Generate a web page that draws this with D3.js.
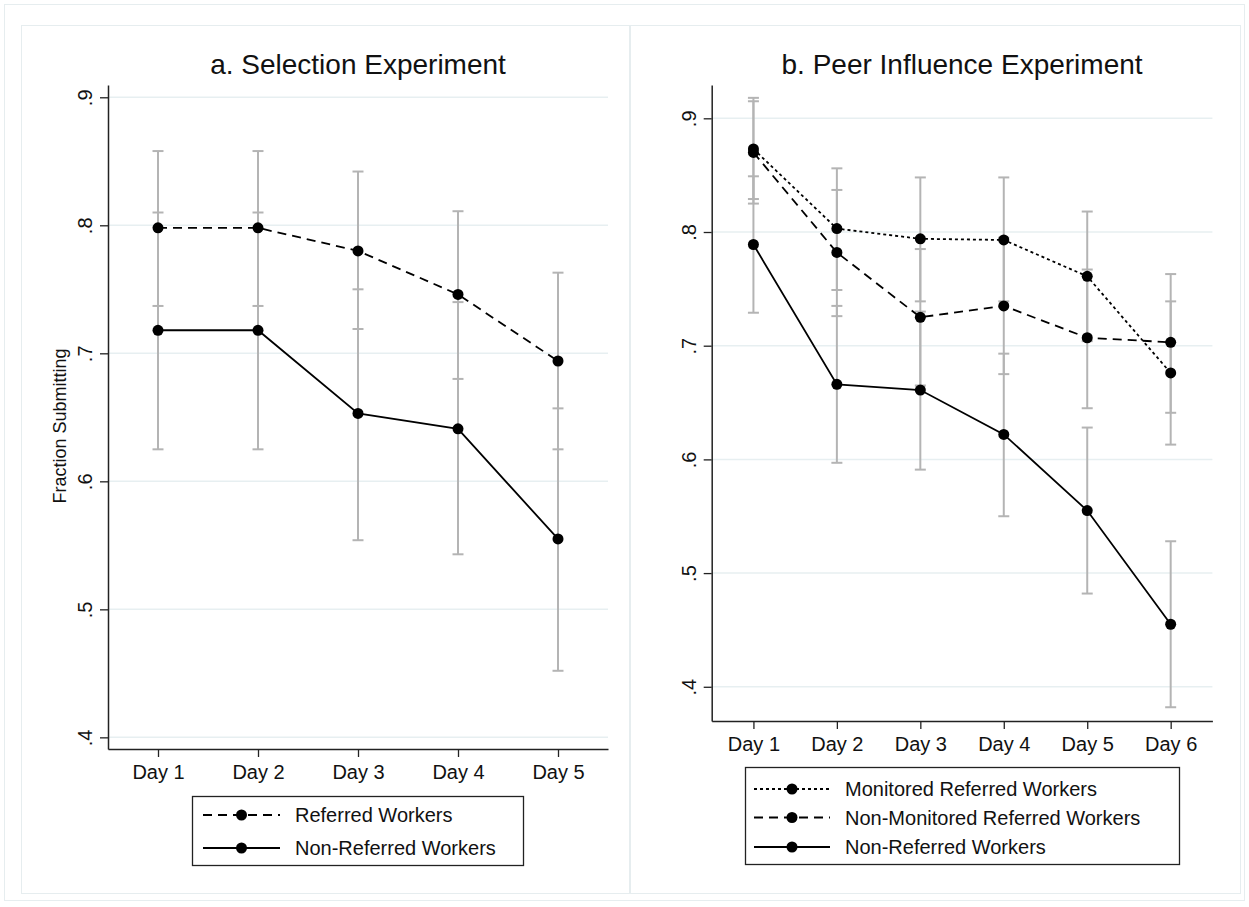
<!DOCTYPE html>
<html>
<head>
<meta charset="utf-8">
<script src="https://cdn.jsdelivr.net/npm/d3@7"></script>
<style>
  body { margin: 0; background: #fff; }
  svg { display: block; font-family: "Liberation Sans", Arial, sans-serif; }
</style>
</head>
<body>
<svg id="chart" width="1249" height="907"></svg>
<script>
// ---------- data ----------
const days5 = ["Day 1", "Day 2", "Day 3", "Day 4", "Day 5"];
const days6 = ["Day 1", "Day 2", "Day 3", "Day 4", "Day 5", "Day 6"];

// a. Selection experiment
const selRef    = [0.798, 0.798, 0.780, 0.746, 0.694];
const selRefLo  = [0.737, 0.737, 0.719, 0.680, 0.625];
const selRefHi  = [0.858, 0.858, 0.842, 0.811, 0.763];
const selNon    = [0.718, 0.718, 0.653, 0.641, 0.555];
const selNonLo  = [0.625, 0.625, 0.554, 0.543, 0.452];
const selNonHi  = [0.810, 0.810, 0.750, 0.740, 0.657];

// b. Peer influence experiment
const monRef    = [0.873, 0.803, 0.794, 0.793, 0.761, 0.676];
const monRefLo  = [0.829, 0.749, 0.739, 0.739, 0.704, 0.613];
const monRefHi  = [0.918, 0.856, 0.848, 0.848, 0.818, 0.739];
const nmRef     = [0.870, 0.782, 0.725, 0.735, 0.707, 0.703];
const nmRefLo   = [0.825, 0.726, 0.665, 0.675, 0.645, 0.641];
const nmRefHi   = [0.915, 0.837, 0.785, 0.795, 0.767, 0.763];
const peerNon   = [0.789, 0.666, 0.661, 0.622, 0.555, 0.455];
const peerNonLo = [0.729, 0.597, 0.591, 0.550, 0.482, 0.382];
const peerNonHi = [0.849, 0.735, 0.730, 0.693, 0.628, 0.528];

const yTicks = [0.4, 0.5, 0.6, 0.7, 0.8, 0.9];
const yTickLabels = [".4", ".5", ".6", ".7", ".8", ".9"];

const titleA = "a. Selection Experiment";
const titleB = "b. Peer Influence Experiment";
const yTitle = "Fraction Submitting";

// ---------- styles ----------
const GRID = "#e7eff1";
const FRAME = "#e6edef";
const CI = "#b4b4b4";
const INK = "#000";
const DASH = "9,6";
const DOT = "3,3";

const svg = d3.select("#chart");

// background frames
svg.append("rect").attr("x", 4.5).attr("y", 4.5).attr("width", 1240).attr("height", 896)
  .attr("fill", "#fff").attr("stroke", FRAME).attr("stroke-width", 1);
svg.append("rect").attr("x", 21.5).attr("y", 25.5).attr("width", 608).attr("height", 868)
  .attr("fill", "#fff").attr("stroke", FRAME).attr("stroke-width", 1);
svg.append("rect").attr("x", 630.5).attr("y", 25.5).attr("width", 610).attr("height", 868)
  .attr("fill", "#fff").attr("stroke", FRAME).attr("stroke-width", 1);

function panel(cfg) {
  const g = svg.append("g");
  const x = d3.scalePoint().domain(cfg.days).range([cfg.x0, cfg.x1]).padding(0.5);
  const y = d3.scaleLinear().domain(cfg.yDomain).range([cfg.y1, cfg.y0]);

  // gridlines
  g.append("g").selectAll("line").data(yTicks).join("line")
    .attr("x1", cfg.x0).attr("x2", cfg.x1)
    .attr("y1", d => y(d)).attr("y2", d => y(d))
    .attr("stroke", GRID).attr("stroke-width", 1.5);

  // title
  g.append("text").attr("x", (cfg.x0 + cfg.x1) / 2).attr("y", 74)
    .attr("text-anchor", "middle").attr("font-size", 28).attr("fill", "#111")
    .text(cfg.title);

  // y axis
  const yAxis = d3.axisLeft(y).tickValues(yTicks)
    .tickFormat((d, i) => yTickLabels[i]).tickSize(8).tickSizeOuter(0);
  const ya = g.append("g").attr("transform", `translate(${cfg.x0},0)`).call(yAxis);
  ya.select(".domain").attr("stroke", "#222").attr("stroke-width", 1.5);
  ya.selectAll(".tick line").attr("stroke", "#222").attr("stroke-width", 1.3);
  ya.selectAll(".tick text")
    .attr("transform", "rotate(-90)")
    .attr("x", 0).attr("y", -16).attr("dy", 0)
    .attr("text-anchor", "middle").attr("font-size", 20)
    .attr("font-family", "Liberation Sans, Arial, sans-serif").attr("fill", "#111");

  // x axis
  const xAxis = d3.axisBottom(x).tickSize(8).tickSizeOuter(0).tickPadding(8);
  const xa = g.append("g").attr("transform", `translate(0,${cfg.y1})`).call(xAxis);
  xa.select(".domain").attr("stroke", "#222").attr("stroke-width", 1.5);
  xa.selectAll(".tick line").attr("stroke", "#222").attr("stroke-width", 1.3);
  xa.selectAll(".tick text").attr("font-size", 20)
    .attr("font-family", "Liberation Sans, Arial, sans-serif").attr("fill", "#111");

  // y title
  if (cfg.yTitle) {
    g.append("text")
      .attr("transform", `translate(66,426) rotate(-90)`)
      .attr("text-anchor", "middle").attr("font-size", 18).attr("fill", "#111")
      .text(cfg.yTitle);
  }

  // error bars (drawn under lines)
  const capW = 5.5;
  cfg.series.forEach(s => {
    const eb = g.append("g");
    s.vals.forEach((v, i) => {
      const cx = x(cfg.days[i]);
      eb.append("line").attr("x1", cx).attr("x2", cx)
        .attr("y1", y(s.lo[i])).attr("y2", y(s.hi[i]))
        .attr("stroke", CI).attr("stroke-width", 2);
      [s.lo[i], s.hi[i]].forEach(c => {
        eb.append("line").attr("x1", cx - capW).attr("x2", cx + capW)
          .attr("y1", y(c)).attr("y2", y(c))
          .attr("stroke", CI).attr("stroke-width", 2);
      });
    });
  });

  // lines + markers
  const line = d3.line().x((d, i) => x(cfg.days[i])).y(d => y(d));
  cfg.series.forEach(s => {
    g.append("path").datum(s.vals).attr("d", line)
      .attr("fill", "none").attr("stroke", INK).attr("stroke-width", 1.8)
      .attr("stroke-dasharray", s.dash || null);
    g.append("g").selectAll("circle").data(s.vals).join("circle")
      .attr("cx", (d, i) => x(cfg.days[i])).attr("cy", d => y(d))
      .attr("r", 5.5).attr("fill", INK);
  });

  // legend
  const L = cfg.legend;
  g.append("rect").attr("x", L.x).attr("y", L.y).attr("width", L.w).attr("height", L.h)
    .attr("fill", "#fff").attr("stroke", "#222").attr("stroke-width", 1.3);
  cfg.series.forEach((s, i) => {
    const ry = L.rows[i];
    g.append("line").attr("x1", L.lx0).attr("x2", L.lx1).attr("y1", ry).attr("y2", ry)
      .attr("stroke", INK).attr("stroke-width", 1.8).attr("stroke-dasharray", s.dash || null);
    g.append("circle").attr("cx", (L.lx0 + L.lx1) / 2).attr("cy", ry).attr("r", 5.5).attr("fill", INK);
    g.append("text").attr("x", L.tx).attr("y", ry).attr("dy", "0.35em")
      .attr("font-size", 20).attr("fill", "#111").text(s.name);
  });
}

panel({
  days: days5, x0: 108, x1: 608, y0: 85, y1: 749,
  yDomain: [0.3909, 0.9096],
  title: titleA, yTitle: yTitle,
  series: [
    { name: "Referred Workers", vals: selRef, lo: selRefLo, hi: selRefHi, dash: DASH },
    { name: "Non-Referred Workers", vals: selNon, lo: selNonLo, hi: selNonHi, dash: null }
  ],
  legend: { x: 192.5, y: 796.5, w: 331, h: 69, rows: [815, 848], lx0: 203, lx1: 280, tx: 295 }
});

panel({
  days: days6, x0: 711.7, x1: 1212.4, y0: 85, y1: 721,
  yDomain: [0.3699, 0.9293],
  title: titleB, yTitle: null,
  series: [
    { name: "Monitored Referred Workers", vals: monRef, lo: monRefLo, hi: monRefHi, dash: DOT },
    { name: "Non-Monitored Referred Workers", vals: nmRef, lo: nmRefLo, hi: nmRefHi, dash: DASH },
    { name: "Non-Referred Workers", vals: peerNon, lo: peerNonLo, hi: peerNonHi, dash: null }
  ],
  legend: { x: 745.5, y: 767.5, w: 434, h: 97, rows: [789, 817.5, 847], lx0: 754, lx1: 830, tx: 845 }
});
</script>
</body>
</html>
